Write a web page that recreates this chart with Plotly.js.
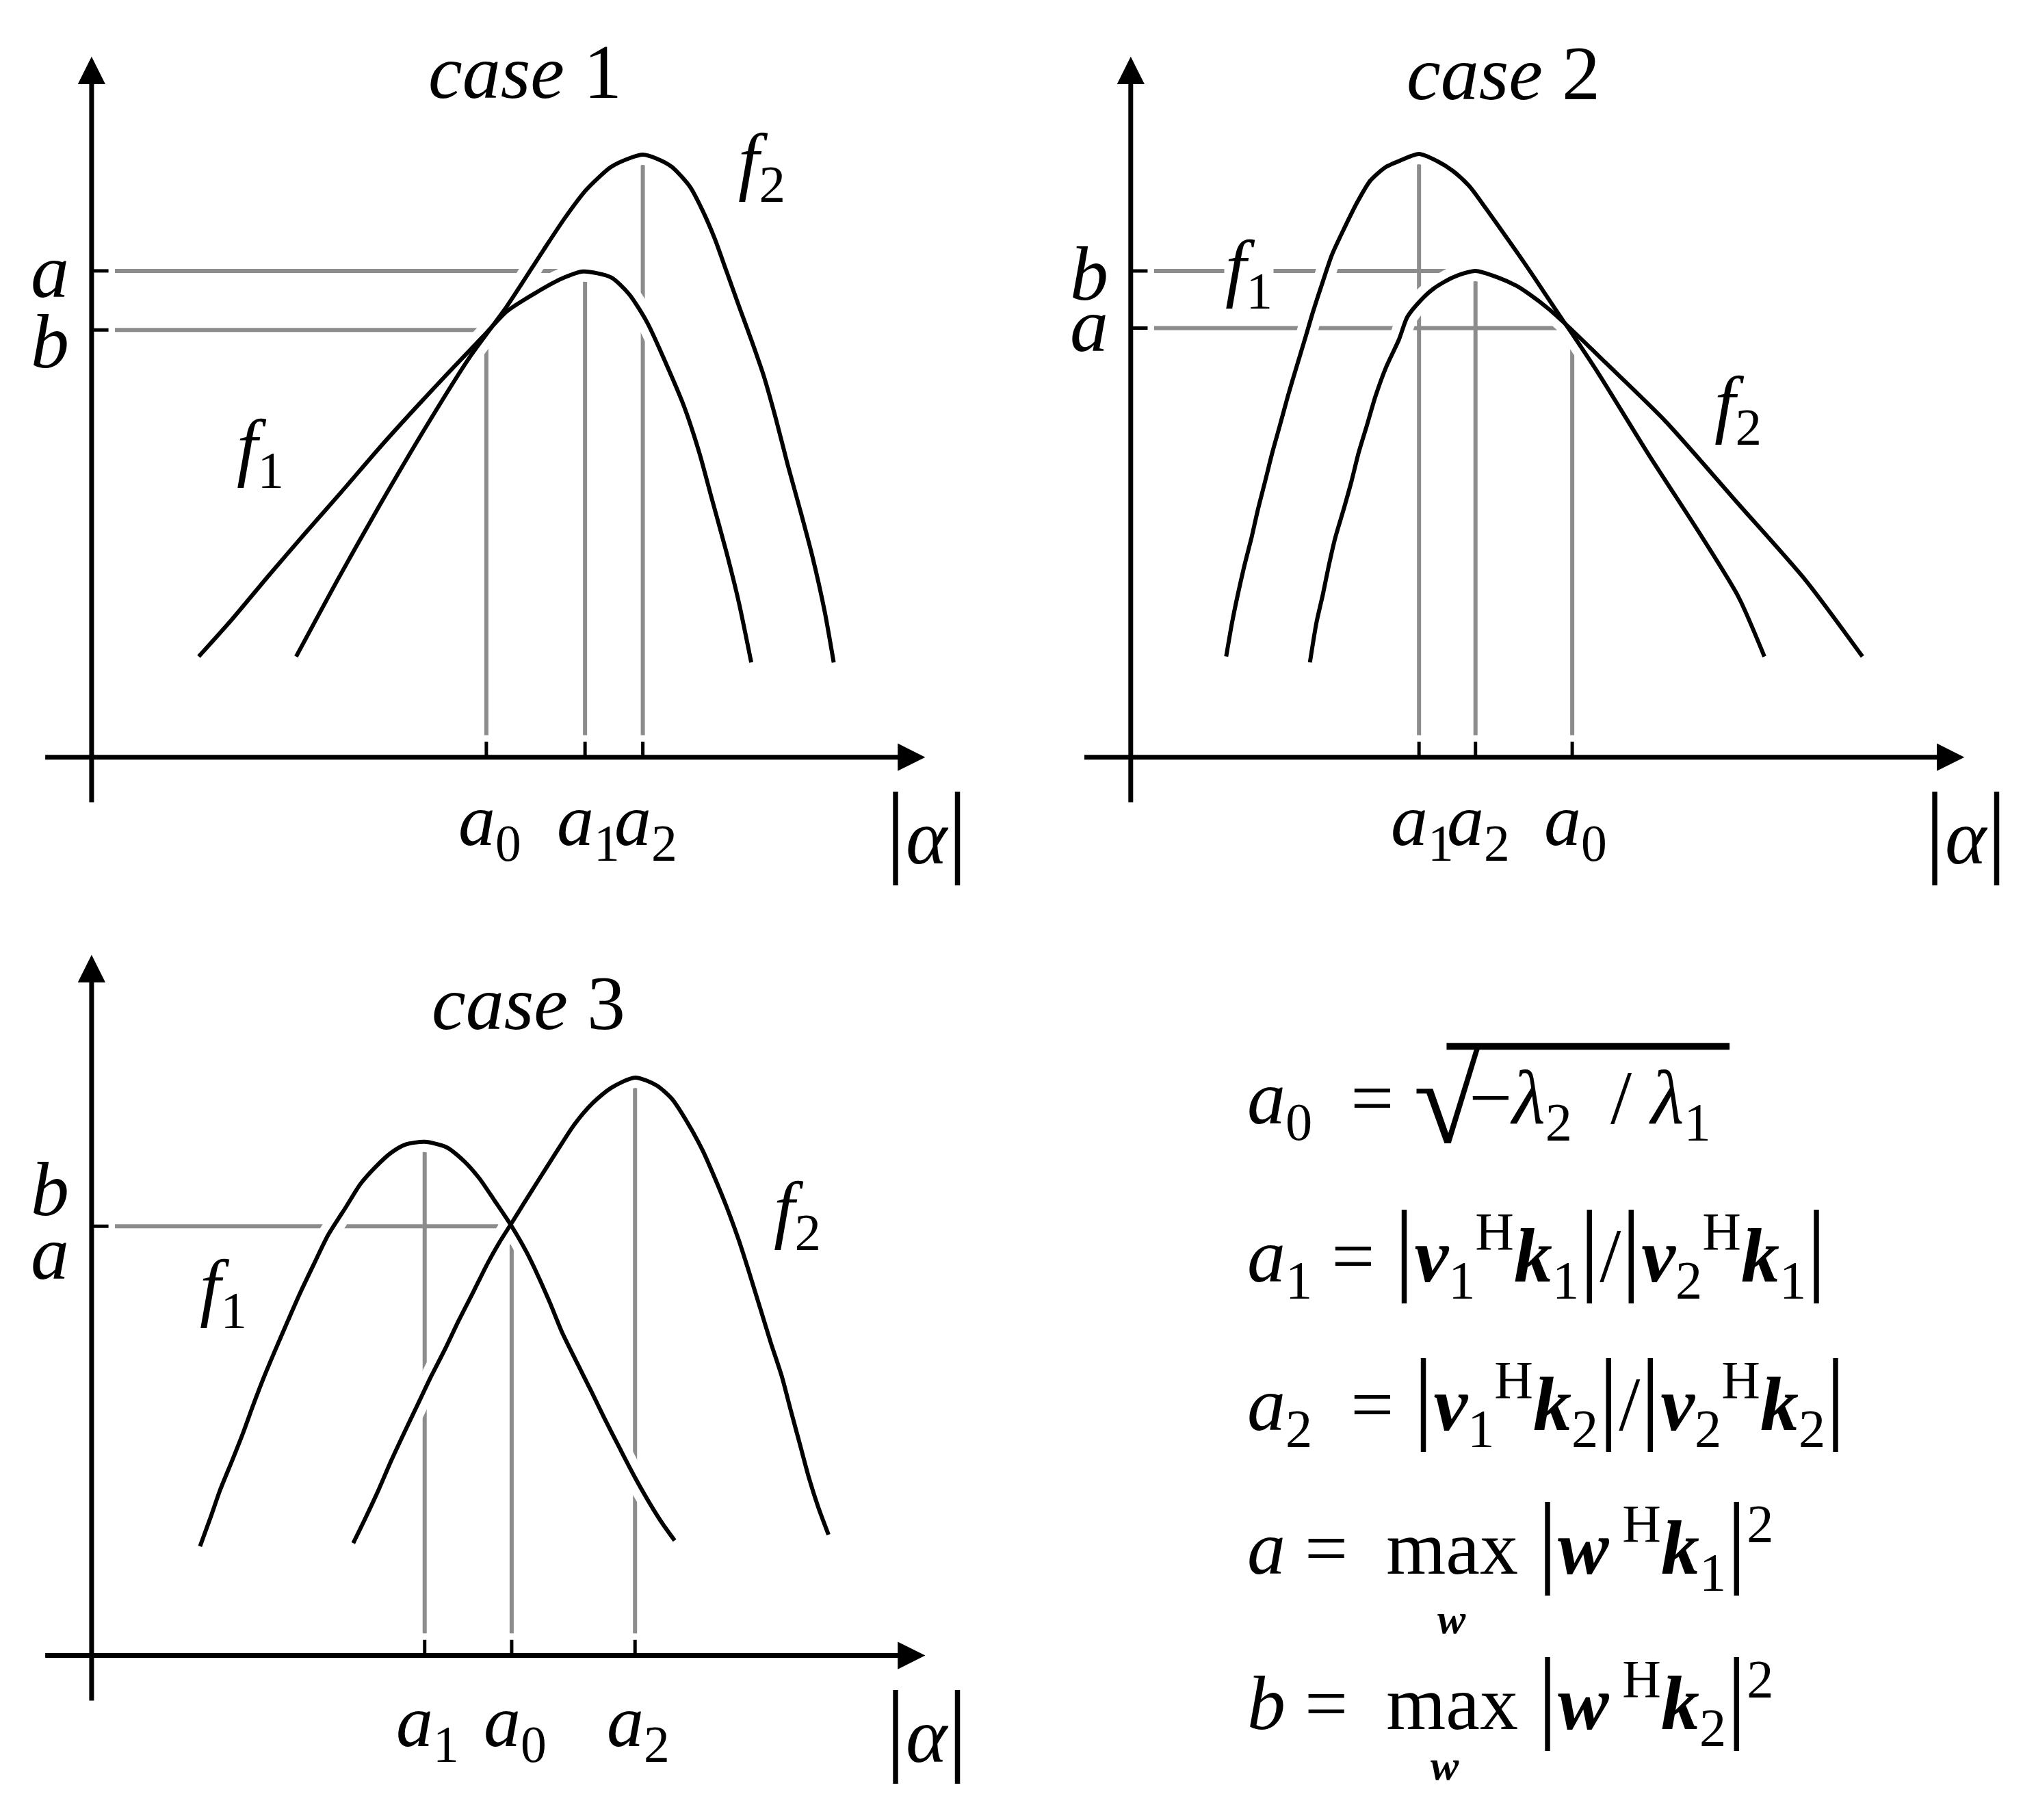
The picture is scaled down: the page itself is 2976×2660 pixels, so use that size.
<!DOCTYPE html>
<html>
<head>
<meta charset="utf-8">
<script src="https://cdn.plot.ly/plotly-3.0.1.min.js"></script>
<style>body{margin:0;background:#fff}</style>
</head>
<body>
<div id="chart" style="width:2976px;height:2660px"></div>
<script>
// case 1 curves (x = |alpha|, y = value)
const c1F1x = [1.65, 2.16, 2.73, 3.29, 3.86, 4.42, 4.99, 5.55, 6.02, 6.40, 6.87, 7.24, 7.57, 8.00, 8.28, 8.56, 8.84, 9.13, 9.36, 9.55, 9.78, 9.97, 10.16];
const c1F1y = [1.55, 2.12, 2.80, 3.45, 4.10, 4.75, 5.38, 5.98, 6.47, 6.87, 7.17, 7.37, 7.48, 7.39, 7.13, 6.69, 6.08, 5.39, 4.69, 3.99, 3.15, 2.38, 1.46];
const c1F2x = [3.15, 3.81, 4.42, 5.17, 5.83, 6.40, 6.96, 7.30, 7.62, 8.00, 8.30, 8.49, 8.70, 8.94, 9.22, 9.41, 9.60, 9.78, 9.97, 10.16, 10.35, 10.54, 10.72, 10.91, 11.10, 11.29, 11.43];
const c1F2y = [1.55, 2.77, 3.85, 5.12, 6.17, 6.95, 7.81, 8.32, 8.74, 9.09, 9.23, 9.28, 9.22, 9.09, 8.78, 8.42, 7.98, 7.48, 6.95, 6.43, 5.88, 5.21, 4.51, 3.82, 3.10, 2.25, 1.46];
const c1KeyX = [6.08, 7.60, 8.49];
const c1KeyTop = [6.58, 7.49, 9.28];
const c1KeyLab = ['0', '1', '2'];
const c1Lev = [7.49, 6.58];
const c1LevEnd = [7.60, 6.08];
const c1LevLab = ['a', 'b'];

// case 2
const c2F1x = [1.47, 1.56, 1.65, 1.75, 1.86, 1.96, 2.07, 2.18, 2.30, 2.42, 2.55, 2.68, 2.81, 2.95, 3.10, 3.30, 3.49, 3.69, 3.93, 4.13, 4.44, 4.72, 4.96, 5.21, 5.45, 5.65, 5.94, 6.18, 6.38, 6.62, 6.82, 7.21, 7.99, 8.78, 9.36, 9.76];
const c2F1y = [1.55, 2.07, 2.51, 2.95, 3.38, 3.82, 4.25, 4.69, 5.12, 5.56, 6.00, 6.43, 6.87, 7.30, 7.74, 8.17, 8.55, 8.88, 9.09, 9.18, 9.29, 9.18, 9.03, 8.80, 8.48, 8.20, 7.79, 7.44, 7.14, 6.78, 6.49, 5.90, 4.64, 3.42, 2.47, 1.55];
const c2F2x = [2.76, 2.86, 2.96, 3.05, 3.15, 3.28, 3.40, 3.51, 3.64, 3.77, 3.93, 4.13, 4.26, 4.47, 4.67, 4.96, 5.31, 5.65, 5.94, 6.14, 6.43, 6.72, 7.31, 8.24, 9.36, 10.39, 11.27];
const c2F2y = [1.46, 2.07, 2.51, 2.95, 3.38, 3.82, 4.25, 4.69, 5.12, 5.56, 6.00, 6.43, 6.78, 7.04, 7.22, 7.39, 7.49, 7.39, 7.26, 7.13, 6.91, 6.65, 6.08, 5.17, 3.90, 2.73, 1.55];
const c2KeyX = [4.44, 5.31, 6.80];
const c2KeyTop = [9.29, 7.49, 6.61];
const c2KeyLab = ['1', '2', '0'];
const c2Lev = [7.49, 6.61];
const c2LevEnd = [5.31, 6.80];
const c2LevLab = ['b', 'a'];

// case 3
const c3F1x = [1.67, 1.83, 1.98, 2.16, 2.33, 2.49, 2.66, 2.84, 3.03, 3.22, 3.43, 3.64, 3.92, 4.14, 4.37, 4.61, 4.84, 5.13, 5.46, 5.74, 5.97, 6.21, 6.47, 6.70, 6.87, 7.06, 7.24, 7.48, 7.70, 7.90, 8.14, 8.37, 8.61, 8.80, 8.98];
const c3F1y = [1.68, 2.12, 2.55, 2.99, 3.42, 3.86, 4.30, 4.73, 5.17, 5.60, 6.04, 6.47, 6.91, 7.26, 7.52, 7.74, 7.87, 7.91, 7.83, 7.61, 7.35, 7.00, 6.61, 6.21, 5.86, 5.43, 4.99, 4.50, 4.06, 3.65, 3.18, 2.74, 2.32, 2.02, 1.77];
const c3F2x = [4.03, 4.22, 4.42, 4.61, 4.81, 5.02, 5.23, 5.45, 5.66, 5.88, 6.10, 6.28, 6.47, 6.65, 6.87, 7.15, 7.43, 7.71, 8.00, 8.37, 8.70, 8.94, 9.17, 9.41, 9.60, 9.78, 9.97, 10.14, 10.30, 10.46, 10.63, 10.77, 10.91, 11.05, 11.19, 11.35];
const c3F2y = [1.73, 2.12, 2.55, 2.99, 3.42, 3.86, 4.30, 4.73, 5.17, 5.60, 6.04, 6.36, 6.66, 6.95, 7.30, 7.74, 8.17, 8.50, 8.74, 8.90, 8.78, 8.57, 8.22, 7.78, 7.35, 6.91, 6.39, 5.86, 5.34, 4.82, 4.30, 3.77, 3.25, 2.73, 2.29, 1.86];
const c3KeyX = [5.13, 6.47, 8.37];
const c3KeyTop = [7.91, 6.61, 8.90];
const c3KeyLab = ['1', '0', '2'];
const c3Lev = [6.61];
const c3LevEnd = [6.47];
const c3LevLab = ['b', 'a'];

const W = 2976, H = 2660, U = 94.9;
const FONT = 'Liberation Serif';
const GRAY = '#8c8c8c';
const XR = [-1, 13.2], YR = [-1.8, 11.2];

const traces = [];
const annotations = [];
const layout = {
  width: W, height: H,
  margin: {l: 0, r: 0, t: 0, b: 0},
  paper_bgcolor: '#fff', plot_bgcolor: 'rgba(0,0,0,0)',
  showlegend: false,
  font: {family: FONT, color: '#000', size: 110},
  annotations: annotations,
  shapes: []
};

function txt(xr, yr, x, y, text, size, extra) {
  annotations.push(Object.assign({
    xref: xr, yref: yr, x: x, y: y, text: text, showarrow: false,
    font: {family: FONT, size: size, color: '#000'}
  }, extra || {}));
}

function panel(n, ox, oy, p) {
  const xa = 'x' + (n === 1 ? '' : n), ya = 'y' + (n === 1 ? '' : n);
  const key = n === 1 ? '' : n;
  layout['xaxis' + key] = {
    domain: [(ox + XR[0] * U) / W, (ox + XR[1] * U) / W], range: XR,
    visible: false, fixedrange: true, anchor: ya
  };
  layout['yaxis' + key] = {
    domain: [1 - (oy - YR[0] * U) / H, 1 - (oy - YR[1] * U) / H], range: YR,
    visible: false, fixedrange: true, anchor: xa
  };
  const line = (x, y, color, width) => traces.push({
    x: x, y: y, xaxis: xa, yaxis: ya, mode: 'lines', hoverinfo: 'skip',
    line: {color: color, width: width, shape: 'spline', smoothing: 0.7}
  });
  // gray guide lines
  p.keyX.forEach((k, i) => line([k, k], [0.34, p.keyTop[i]], GRAY, 6));
  p.lev.forEach((v, i) => line([0.36, p.levEnd[i]], [v, v], GRAY, 6));
  // white halos, then the curves
  line(p.f1x, p.f1y, '#fff', 30);
  line(p.f2x, p.f2y, '#fff', 30);
  line(p.f1x, p.f1y, '#000', 6);
  line(p.f2x, p.f2y, '#000', 6);
  // ticks
  p.keyX.forEach(k => line([k, k], [0.02, 0.24], '#000', 5));
  p.lev.forEach(v => line([0.02, 0.26], [v, v], '#000', 5));
  // axes with arrows
  const arrow = (x, y, ax, ay) => annotations.push({
    xref: xa, yref: ya, axref: xa, ayref: ya, x: x, y: y, ax: ax, ay: ay,
    text: '', showarrow: true, arrowhead: 2, arrowsize: 1.15, arrowwidth: 7,
    arrowcolor: '#000', standoff: 0, startstandoff: 0
  });
  arrow(12.84, 0, -0.73, 0);
  arrow(0, 10.79, 0, -0.71);
  // labels
  txt(xa, ya, p.title[0], p.title[1], '<i>case</i> ' + n, 112);
  p.keyX.forEach((k, i) => txt(xa, ya, k + 0.05, p.keyLabY, '<i>a</i><sub>' + p.keyLab[i] + '</sub>', 108));
  p.levLabY.forEach((v, i) => txt(xa, ya, -0.64, v, '<i>' + p.levLab[i] + '</i>', 112));
  txt(xa, ya, p.f1[0], p.f1[1], '<i>f</i><sub>1</sub>', 110, {bgcolor: '#fff'});
  txt(xa, ya, p.f2[0], p.f2[1], '<i>f</i><sub>2</sub>', 110);
  txt(xa, ya, 12.86, -1.1, '<span style="font-size:150px">|</span><i>α</i><span style="font-size:150px">|</span>', 115);
}

panel(1, 133.9, 1106.7, {
  f1x: c1F1x, f1y: c1F1y, f2x: c1F2x, f2y: c1F2y,
  keyX: c1KeyX, keyTop: c1KeyTop, keyLab: c1KeyLab,
  lev: c1Lev, levEnd: c1LevEnd, levLab: c1LevLab, levLabY: [7.49, 6.4],
  keyLabY: -1.05, title: [6.68, 10.56], f1: [2.6, 4.7], f2: [10.32, 9.1]
});
panel(2, 1652.8, 1106.7, {
  f1x: c2F1x, f1y: c2F1y, f2x: c2F2x, f2y: c2F2y,
  keyX: c2KeyX, keyTop: c2KeyTop, keyLab: c2KeyLab,
  lev: c2Lev, levEnd: c2LevEnd, levLab: c2LevLab, levLabY: [7.45, 6.66],
  keyLabY: -1.05, title: [5.74, 10.53], f1: [1.82, 7.46], f2: [9.35, 5.36]
});
panel(3, 133.9, 2419.5, {
  f1x: c3F1x, f1y: c3F1y, f2x: c3F2x, f2y: c3F2y,
  keyX: c3KeyX, keyTop: c3KeyTop, keyLab: c3KeyLab,
  lev: c3Lev, levEnd: c3LevEnd, levLab: c3LevLab, levLabY: [7.18, 6.2],
  keyLabY: -1.1, title: [6.73, 10.05], f1: [2.03, 5.59], f2: [10.87, 6.79]
});

// formulas
const BAR = s => '<span style="font-size:' + s + 'px">|</span>';
const V = '<b><i>v</i></b>', K = '<b><i>k</i></b>', Wv = '<b><i>w</i></b>';
txt('paper', 'paper', 0.612, 0.3937, '<i>a</i><sub>0</sub>  =', 112, {xanchor: 'left'});
txt('paper', 'paper', 0.7283, 0.3951, '√', 180);
txt('paper', 'paper', 0.7207, 0.3937, '−<i>λ</i><sub>2</sub>  / <i>λ</i><sub>1</sub>', 112, {xanchor: 'left'});
layout.shapes.push({type: 'line', xref: 'paper', yref: 'paper', x0: 0.7105, x1: 0.8495, y0: 0.4251, y1: 0.4251, line: {color: '#000', width: 10}});

const formulas = [
  [0.2796, '<i>a</i><sub>1</sub> = ' + BAR(150) + V + '<sub>1</sub><sup>H</sup>' + K + '<sub>1</sub>' + BAR(150) + '/' + BAR(150) + V + '<sub>2</sub><sup>H</sup>' + K + '<sub>1</sub>' + BAR(150)],
  [0.1983, '<i>a</i><sub>2</sub>  = ' + BAR(150) + V + '<sub>1</sub><sup>H</sup>' + K + '<sub>2</sub>' + BAR(150) + '/' + BAR(150) + V + '<sub>2</sub><sup>H</sup>' + K + '<sub>2</sub>' + BAR(150)],
  [0.1191, '<i>a</i> =  max ' + BAR(150) + Wv + '<sup> H</sup>' + K + '<sub>1</sub>' + BAR(150) + '<sup>2</sup>'],
  [0.0339, '<i>b</i> =  max ' + BAR(150) + Wv + '<sup> H</sup>' + K + '<sub>2</sub>' + BAR(150) + '<sup>2</sup>']
];
formulas.forEach(f => txt('paper', 'paper', 0.612, f[0], f[1], 112, {xanchor: 'left'}));
txt('paper', 'paper', 0.7207, 0.097, Wv, 62);
txt('paper', 'paper', 0.7175, 0.0165, Wv, 62);

Plotly.newPlot('chart', traces, layout, {staticPlot: true});
</script>
</body>
</html>
